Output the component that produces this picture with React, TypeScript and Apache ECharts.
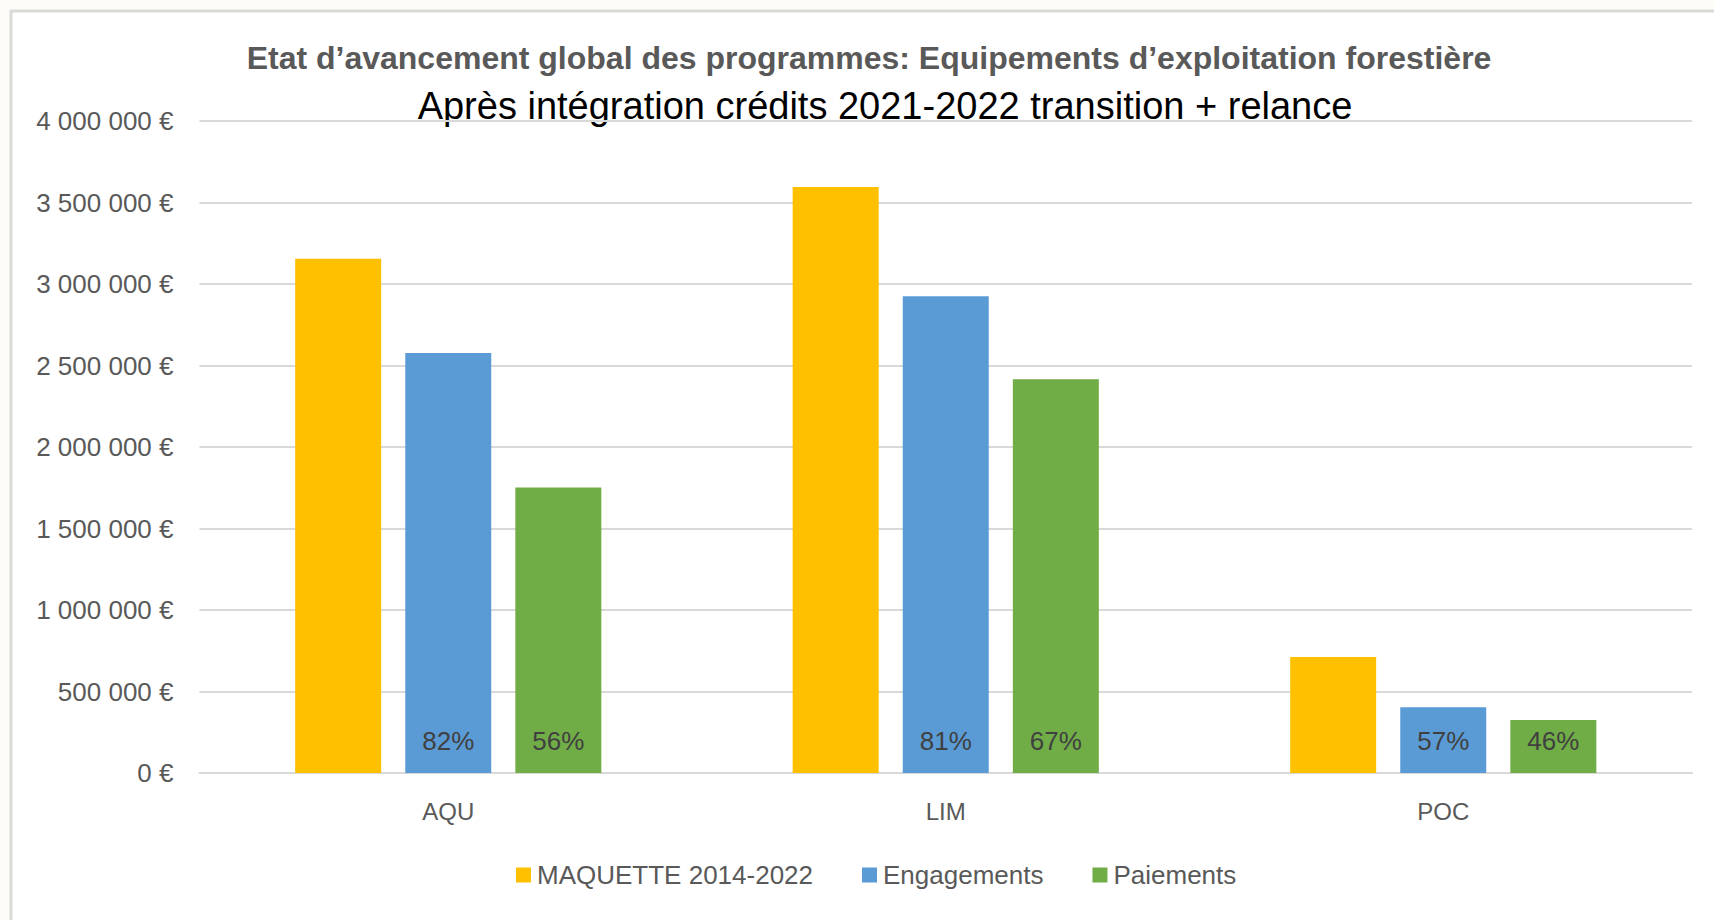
import React, { useEffect, useRef } from "react";
import * as echarts from "echarts";

const categories = ["AQU", "LIM", "POC"];
const maquette = [3155000, 3595000, 711000];
const engagements = [2577000, 2925000, 403000];
const paiements = [1752000, 2415000, 325000];
const engagementPct = [82, 81, 57];
const paiementPct = [56, 67, 46];
const yTicks = { min: 0, max: 4000000, interval: 500000 };

const titleText = "Etat d\u2019avancement global des programmes: Equipements d\u2019exploitation forestière";
const subtitleText = "Après intégration crédits 2021-2022 transition + relance";

const FONT = "'Liberation Sans', Arial, sans-serif";

const fmtEuro = (v: number) => {
  const s = Math.round(v).toString().replace(/\B(?=(\d{3})+(?!\d))/g, " ");
  return s + " €";
};

export default function App() {
  const ref = useRef<HTMLDivElement>(null);
  useEffect(() => {
    document.body.style.margin = "0";
    const chart = echarts.init(ref.current!, null, { renderer: "svg" });
    const pctLabel = (arr: number[]) => ({
      show: true,
      position: "insideBottom",
      distance: 19,
      color: "#404040",
      fontSize: 26,
      fontFamily: FONT,
      formatter: (p: any) => arr[p.dataIndex] + "%",
    });
    chart.setOption({
      animation: false,
      backgroundColor: "#fefcf6",
      graphic: [
        {
          type: "rect",
          z: -10,
          silent: true,
          shape: { x: 11, y: 11, width: 1720, height: 930 },
          style: { fill: "#ffffff", stroke: "#d9d9d9", lineWidth: 3 },
        },
        {
          type: "text",
          x: 869,
          y: 58,
          style: {
            text: titleText,
            textAlign: "center",
            textVerticalAlign: "middle",
            fill: "#595959",
            font: `bold 32px ${FONT}`,
          },
        },
        {
          type: "text",
          x: 885,
          y: 106,
          style: {
            text: subtitleText,
            textAlign: "center",
            textVerticalAlign: "middle",
            fill: "#000000",
            font: `38px ${FONT}`,
          },
        },
      ],
      grid: { left: 199.5, right: 22, top: 121, bottom: 147, containLabel: false },
      legend: {
        bottom: 27,
        left: 511,
        itemWidth: 15,
        itemHeight: 15,
        itemGap: 49,
        icon: "rect",
        textStyle: { color: "#595959", fontSize: 26, fontFamily: FONT, padding: [0, 0, 0, 1] },
        data: ["MAQUETTE 2014-2022", "Engagements", "Paiements"],
      },
      xAxis: {
        type: "category",
        data: categories,
        axisLine: { show: true, lineStyle: { color: "#d9d9d9", width: 2 } },
        axisTick: { show: false },
        axisLabel: { color: "#595959", fontSize: 24, fontFamily: FONT, margin: 26 },
      },
      yAxis: {
        type: "value",
        min: yTicks.min,
        max: yTicks.max,
        interval: yTicks.interval,
        axisLine: { show: false },
        axisTick: { show: false },
        splitLine: { lineStyle: { color: "#d9d9d9", width: 2 } },
        axisLabel: {
          color: "#595959",
          fontSize: 26,
          fontFamily: FONT,
          margin: 26,
          formatter: fmtEuro,
        },
      },
      series: [
        {
          name: "MAQUETTE 2014-2022",
          type: "bar",
          data: maquette,
          barWidth: 86,
          barGap: "28%",
          itemStyle: { color: "#FFC000" },
        },
        {
          name: "Engagements",
          type: "bar",
          data: engagements,
          barWidth: 86,
          barGap: "28%",
          itemStyle: { color: "#5B9BD5" },
          label: pctLabel(engagementPct),
        },
        {
          name: "Paiements",
          type: "bar",
          data: paiements,
          barWidth: 86,
          barGap: "28%",
          itemStyle: { color: "#70AD47" },
          label: pctLabel(paiementPct),
        },
      ],
    });
    return () => chart.dispose();
  }, []);
  return <div ref={ref} style={{ width: 1714, height: 920 }} />;
}
